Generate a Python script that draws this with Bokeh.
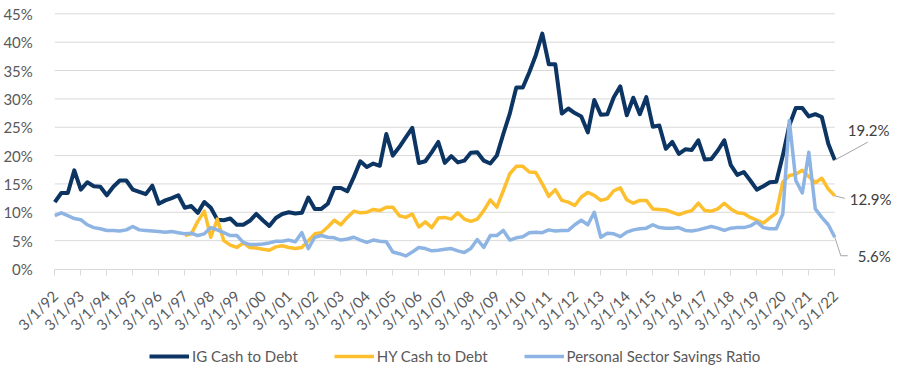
import math
import numpy as np
from bokeh.plotting import figure
from bokeh.models import Range1d, FixedTicker, PrintfTickFormatter, Label, Arrow, ColumnDataSource, Legend
from bokeh.embed import file_html
from bokeh.resources import INLINE

# Quarterly observations, Q1 1992 .. Q1 2022 (121 quarters)
ig_cash_to_debt = [
    11.8, 13.4, 13.4, 17.4,  14.0, 15.3, 14.6, 14.5,  13.0, 14.5, 15.6, 15.6,
    14.0, 13.6, 13.2, 14.7,  11.5, 12.1, 12.5, 13.0,  10.8, 11.1, 9.9, 11.8,
    10.8, 8.7, 8.6, 8.9,     7.8, 7.8, 8.5, 9.7,      8.6, 7.6, 9.0, 9.7,
    10.0, 9.8, 9.9, 12.6,    10.6, 10.6, 11.5, 14.3,  14.3, 13.7, 16.2, 19.0,
    18.0, 18.6, 18.2, 23.8,  20.0, 21.5, 23.2, 24.9,  18.7, 19.0, 20.6, 22.4,
    18.7, 19.9, 18.8, 19.1,  20.5, 20.6, 19.1, 18.6,  20.0, 23.8, 27.4, 32.0,
    32.0, 34.7, 37.7, 41.5,  36.1, 36.1, 27.4, 28.3,  27.5, 26.9, 24.1, 29.8,
    27.2, 27.3, 30.3, 32.2,  27.1, 30.2, 27.3, 30.3,  25.1, 25.3, 21.2, 22.4,
    20.3, 21.1, 21.0, 22.7,  19.3, 19.4, 20.9, 22.7,  18.3, 16.6, 17.1, 15.6,
    14.0, 14.6, 15.3, 15.4,  20.0, 25.3, 28.4, 28.4,  26.9, 27.3, 26.8, 22.1,
    19.2,
]
hy_cash_to_debt = [
    None, None, None, None,  None, None, None, None,  None, None, None, None,
    None, None, None, None,  None, None, None, None,  5.9, 6.2, 8.4, 10.2,
    5.6, 8.8, 5.0, 4.2,      3.8, 4.6, 3.8, 3.7,      3.5, 3.3, 3.9, 4.1,
    3.8, 3.6, 3.8, 5.0,      6.2, 6.4, 7.4, 8.6,      7.8, 9.1, 10.2, 9.9,
    10.0, 10.5, 10.3, 10.9,  10.9, 9.4, 9.1, 9.7,     7.4, 8.3, 7.3, 9.0,
    9.1, 8.8, 9.9, 8.8,      8.4, 8.8, 10.3, 12.2,    10.9, 13.8, 16.8, 18.1,
    18.1, 17.1, 17.0, 15.0,  12.8, 14.0, 12.1, 11.8,  11.2, 12.7, 13.5, 13.0,
    12.1, 12.4, 13.8, 14.3,  12.2, 11.6, 12.1, 12.1,  10.6, 10.5, 10.4, 10.0,
    9.6, 10.0, 10.3, 11.6,   10.3, 10.2, 10.6, 11.6,  10.6, 9.9, 9.8, 9.1,
    8.6, 8.1, 9.0, 9.9,      15.3, 16.5, 16.7, 17.4,  16.3, 15.2, 16.0, 14.1,
    12.9,
]
personal_savings_ratio = [
    9.4, 9.9, 9.4, 8.9,      8.7, 7.8, 7.3, 7.1,      6.8, 6.8, 6.7, 6.9,
    7.5, 6.9, 6.8, 6.7,      6.6, 6.5, 6.6, 6.4,      6.2, 6.3, 5.9, 6.2,
    7.3, 6.9, 6.4, 5.9,      5.9, 4.7, 4.3, 4.3,      4.4, 4.6, 4.9, 4.9,
    5.1, 4.8, 6.4, 3.6,      5.6, 5.9, 5.6, 5.5,      5.1, 5.3, 5.6, 5.1,
    4.7, 5.1, 4.9, 4.8,      3.0, 2.7, 2.3, 3.0,      3.8, 3.6, 3.2, 3.3,
    3.5, 3.6, 3.2, 2.9,      3.6, 5.2, 3.8, 5.9,      5.9, 6.8, 5.1, 5.5,
    5.7, 6.4, 6.5, 6.4,      6.9, 6.7, 6.8, 6.8,      7.8, 8.6, 7.8, 10.0,
    5.6, 6.3, 6.2, 5.7,      6.5, 6.9, 7.1, 7.2,      7.8, 7.3, 7.2, 7.2,
    7.3, 6.8, 6.7, 6.9,      7.2, 7.5, 7.2, 6.8,      7.2, 7.3, 7.3, 7.6,
    8.3, 7.3, 7.1, 7.1,      9.7, 26.2, 15.6, 13.4,   20.6, 10.6, 9.1, 7.8,
    5.6,
]
tick_labels = [
    "3/1/92", "3/1/93", "3/1/94", "3/1/95", "3/1/96", "3/1/97", "3/1/98", "3/1/99",
    "3/1/00", "3/1/01", "3/1/02", "3/1/03", "3/1/04", "3/1/05", "3/1/06", "3/1/07",
    "3/1/08", "3/1/09", "3/1/10", "3/1/11", "3/1/12", "3/1/13", "3/1/14", "3/1/15",
    "3/1/16", "3/1/17", "3/1/18", "3/1/19", "3/1/20", "3/1/21", "3/1/22",
]
series_names = ["IG Cash to Debt", "HY Cash to Debt", "Personal Sector Savings Ratio"]
y_ticks = [0, 5, 10, 15, 20, 25, 30, 35, 40, 45]

colors = ["#0C3563", "#FDBF2D", "#8EB4E3"]
widths = [4, 3.5, 3.5]
FONT = "Lato"
TEXT = "#595959"

n = len(ig_cash_to_debt)
last = n - 1
quarter = np.arange(n)
src = ColumnDataSource(dict(
    q=quarter,
    ig=np.array(ig_cash_to_debt, dtype=float),
    hy=np.array(hy_cash_to_debt, dtype=float),
    ps=np.array(personal_savings_ratio, dtype=float),
))

# --- geometry (pixels, figure coordinates; the page template has no body margin) ---
W, H = 909, 378
X0_PX, X1_PX = 54.3, 834.3      # where the first / last quarter sit
Y45_PX, Y0_PX = 13.3, 268.5     # where 45 % and 0 % sit (from the top)
px_per_q = (X1_PX - X0_PX) / last
px_per_pct = (Y0_PX - Y45_PX) / y_ticks[-1]
x_min = -X0_PX / px_per_q
x_max = last + (W - X1_PX) / px_per_q
y_max = y_ticks[-1] + Y45_PX / px_per_pct
y_min = -(H - Y0_PX) / px_per_pct

p = figure(width=W, height=H, output_backend="svg", toolbar_location=None,
           x_range=Range1d(x_min, x_max), y_range=Range1d(y_min, y_max),
           min_border=0)
p.outline_line_color = None
p.background_fill_color = "white"
p.border_fill_color = "white"

p.xgrid.visible = False
p.ygrid.visible = False
grid_y = [t for t in y_ticks if t > 0]
p.segment(x0=[0] * len(grid_y), x1=[last] * len(grid_y), y0=grid_y, y1=grid_y,
          line_color="#D9D9D9", line_width=1)

ax = p.xaxis[0]
ax.fixed_location = 0
ax.bounds = (0, last)
ax.ticker = FixedTicker(ticks=[4 * k for k in range(len(tick_labels))])
ax.major_label_overrides = {4 * k: lab for k, lab in enumerate(tick_labels)}
ax.major_label_orientation = math.pi / 4
ax.axis_line_color = "#D9D9D9"
ax.major_tick_line_color = "#D9D9D9"
ax.major_tick_out = 6
ax.major_tick_in = 0
ax.minor_tick_line_color = None
ax.major_label_text_font = FONT
ax.major_label_text_font_size = "15px"
ax.major_label_text_color = TEXT
ax.major_label_standoff = 18

ay = p.yaxis[0]
ay.fixed_location = 0
ay.ticker = FixedTicker(ticks=y_ticks)
ay.formatter = PrintfTickFormatter(format="%d%%")
ay.axis_line_color = None
ay.major_tick_line_color = None
ay.minor_tick_line_color = None
ay.major_label_text_font = FONT
ay.major_label_text_font_size = "15px"
ay.major_label_text_color = TEXT
ay.major_label_standoff = 16

items = []
for col, name, c, w in zip(["ig", "hy", "ps"], series_names, colors, widths):
    r = p.line("q", col, source=src, line_color=c, line_width=w, line_join="round")
    items.append((name, [r]))

lg = Legend(items=items, orientation="horizontal", location=(149, 12))
lg.border_line_color = None
lg.background_fill_alpha = 0
lg.padding = 0
lg.margin = 0
lg.spacing = 36
lg.glyph_width = 40
lg.glyph_height = 20
lg.label_height = 20
lg.label_standoff = 3
lg.label_text_font = FONT
lg.label_text_font_size = "15px"
lg.label_text_color = TEXT
p.add_layout(lg)

# End-of-series data labels with leader lines
lead = "#A6A6A6"
end_vals = [ig_cash_to_debt[-1], hy_cash_to_debt[-1], personal_savings_ratio[-1]]
# (label x offset px, label y offset px (up +), leader path in px offsets)
specs = [
    (13, 30, [(0, 0), (33, 18)]),
    (15, -3, [(0, 0), (10, -2.5)]),
    (23, -19, [(0, 0), (6, -18.5), (13, -18.5)]),
]
for v, (lx, ly, path) in zip(end_vals, specs):
    p.add_layout(Label(x=last, y=v, x_offset=lx, y_offset=ly, text=f"{v:.1f}%",
                       text_font=FONT, text_font_size="15px", text_color="#404040",
                       text_baseline="middle", text_align="left"))
    for (ax0, ay0), (ax1, ay1) in zip(path[:-1], path[1:]):
        p.add_layout(Arrow(end=None, x_start=last + ax0 / px_per_q, y_start=v + ay0 / px_per_pct,
                           x_end=last + ax1 / px_per_q, y_end=v + ay1 / px_per_pct,
                           line_color=lead, line_width=1))

open("out.html", "w").write(file_html(p, INLINE))
